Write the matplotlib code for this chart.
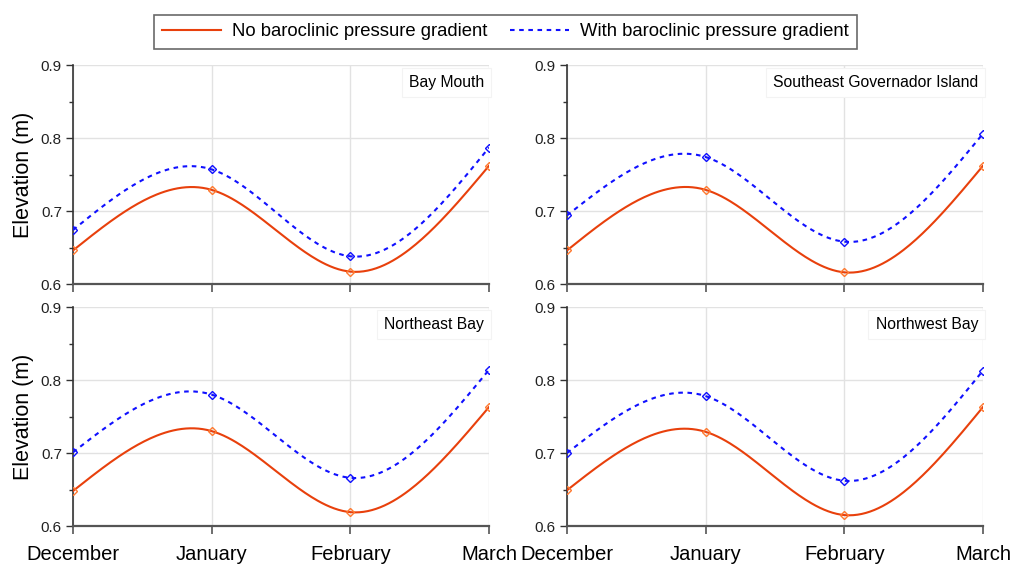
import numpy as np
import matplotlib.pyplot as plt
from matplotlib.lines import Line2D

plt.rcParams['font.family'] = ['Liberation Sans', 'DejaVu Sans']

months = ['December', 'January', 'February', 'March']
stations = ['Bay Mouth', 'Southeast Governador Island', 'Northeast Bay', 'Northwest Bay']

no_baroclinic = [
    [0.646, 0.729, 0.617, 0.762],
    [0.646, 0.729, 0.616, 0.762],
    [0.648, 0.730, 0.619, 0.763],
    [0.649, 0.729, 0.615, 0.763],
]
with_baroclinic = [
    [0.674, 0.757, 0.638, 0.787],
    [0.694, 0.774, 0.658, 0.806],
    [0.701, 0.780, 0.666, 0.814],
    [0.700, 0.778, 0.662, 0.813],
]

RED = '#E8400C'
RED_MK = '#FF7A30'
BLUE = '#1010FF'


def natural_spline(x, y, n=200):
    # plain natural cubic spline, no scipy needed
    x = np.asarray(x, float)
    y = np.asarray(y, float)
    k = len(x)
    h = np.diff(x)
    A = np.zeros((k, k))
    b = np.zeros(k)
    A[0, 0] = A[-1, -1] = 1
    for i in range(1, k - 1):
        A[i, i - 1] = h[i - 1]
        A[i, i] = 2 * (h[i - 1] + h[i])
        A[i, i + 1] = h[i]
        b[i] = 3 * ((y[i + 1] - y[i]) / h[i] - (y[i] - y[i - 1]) / h[i - 1])
    c = np.linalg.solve(A, b)
    xs = np.linspace(x[0], x[-1], n)
    ys = np.empty_like(xs)
    for j, xv in enumerate(xs):
        i = min(np.searchsorted(x, xv, side='right') - 1, k - 2)
        bb = (y[i + 1] - y[i]) / h[i] - h[i] * (2 * c[i] + c[i + 1]) / 3
        d = (c[i + 1] - c[i]) / (3 * h[i])
        t = xv - x[i]
        ys[j] = y[i] + bb * t + c[i] * t ** 2 + d * t ** 3
    return xs, ys


fig = plt.figure(figsize=(10.11, 5.65), dpi=100)
lefts = [0.0722, 0.5608]
bottoms = [0.4973, 0.069]
x = np.arange(len(months))

for idx, name in enumerate(stations):
    row, col = divmod(idx, 2)
    ax = fig.add_axes([lefts[col], bottoms[row], 0.4115, 0.3876])

    xs, ys = natural_spline(x, no_baroclinic[idx])
    ax.plot(xs, ys, color=RED, lw=1.5, zorder=3)
    ax.plot(x, no_baroclinic[idx], ls='none', marker='D', ms=4.5, mfc='none',
            mec=RED_MK, mew=1.0, zorder=4)
    xs, ys = natural_spline(x, with_baroclinic[idx])
    ax.plot(xs, ys, color=BLUE, lw=1.5, ls=(0, (2.2, 2.2)), zorder=3)
    ax.plot(x, with_baroclinic[idx], ls='none', marker='D', ms=4.5, mfc='none',
            mec=BLUE, mew=1.0, zorder=4)

    ax.set_xlim(0, 3)
    ax.set_ylim(0.6, 0.9)
    ax.set_xticks(x)
    ax.set_yticks([0.6, 0.7, 0.8, 0.9])
    ax.set_yticks([0.65, 0.75, 0.85], minor=True)
    ax.grid(True, which='major', color='#e2e2e2', lw=1.0, zorder=0)
    for s in ['top', 'right']:
        ax.spines[s].set_visible(False)
    ax.spines['left'].set_color('#333333')
    ax.spines['bottom'].set_color('#555555')
    ax.spines['left'].set_linewidth(1.2)
    ax.spines['bottom'].set_linewidth(1.6)
    ax.tick_params(axis='y', which='major', length=5, width=1, color='#333333',
                   labelsize=11, pad=3, labelcolor='#222222')
    ax.tick_params(axis='y', which='minor', length=3, width=1, color='#333333')
    ax.tick_params(axis='x', length=6, width=1.2, color='#555555', labelsize=14.5, pad=8)
    ax.set_yticklabels(['0.6', '0.7', '0.8', '0.9'])
    if row == 0:
        ax.set_xticklabels([])
    else:
        ax.set_xticklabels(months)
    if col == 0:
        ax.set_ylabel('Elevation (m)', fontsize=15.5, labelpad=5)

    ax.text(0.988, 0.955, name, transform=ax.transAxes, ha='right', va='top',
            fontsize=11.3, zorder=5,
            bbox=dict(boxstyle='square,pad=0.45', fc='white', ec='#f3f3f3', lw=0.8))

handles = [Line2D([], [], color=RED, lw=1.5),
           Line2D([], [], color=BLUE, lw=1.5, ls=(0, (2.2, 2.2)))]
leg = fig.legend(handles, ['No baroclinic pressure gradient', 'With baroclinic pressure gradient'],
                 loc='upper center', bbox_to_anchor=(0.5, 0.99), ncol=2, fontsize=13.3,
                 frameon=True, fancybox=False, edgecolor='#444444', handlelength=3.2,
                 columnspacing=1.2, handletextpad=0.6, borderpad=0.45)
leg.get_frame().set_linewidth(1.2)

fig.savefig('out.png', dpi=100)
